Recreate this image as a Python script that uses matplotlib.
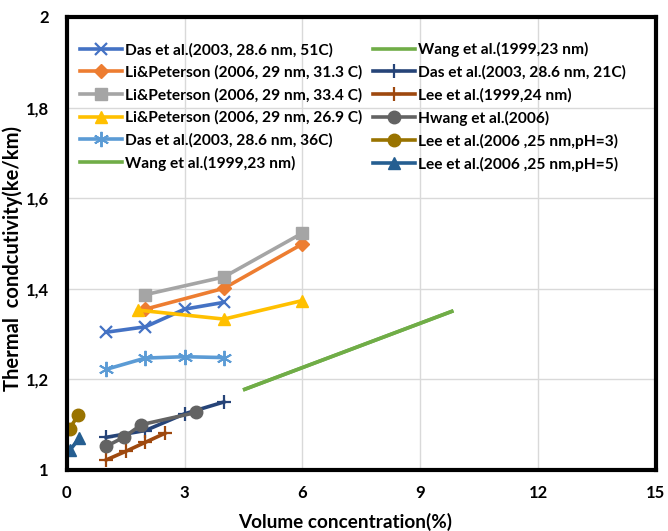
import numpy as np
import matplotlib
matplotlib.use('Agg')
import matplotlib.pyplot as plt
from matplotlib.ticker import FuncFormatter

plt.rcParams['font.family'] = ['Lato', 'DejaVu Sans']
plt.rcParams['font.weight'] = 'bold'

# data
das51_x = [1, 2, 3, 4]
das51_y = [1.304, 1.316, 1.355, 1.370]
li313_x = [2, 4, 6]
li313_y = [1.355, 1.401, 1.499]
li334_x = [2, 4, 6]
li334_y = [1.387, 1.426, 1.523]
li269_x = [1.8, 4, 6]
li269_y = [1.353, 1.333, 1.374]
das36_x = [1, 2, 3, 4]
das36_y = [1.222, 1.247, 1.250, 1.248]
wang_x = [4.53, 9.8]
wang_y = [1.178, 1.350]
das21_x = [1, 2, 3, 4]
das21_y = [1.072, 1.087, 1.124, 1.150]
lee99_x = [1, 1.5, 2, 2.5]
lee99_y = [1.022, 1.041, 1.061, 1.081]
hwang_x = [1, 1.45, 1.9, 3.3]
hwang_y = [1.052, 1.072, 1.100, 1.127]
lee3_x = [0.07, 0.29]
lee3_y = [1.091, 1.121]
lee5_x = [0.08, 0.32]
lee5_y = [1.044, 1.070]

fig = plt.figure(figsize=(6.68, 5.31), dpi=100)
ax = fig.add_axes([0.100, 0.115, 0.882, 0.853])

lw = 2.6
# left column of the legend
h1, = ax.plot(das51_x, das51_y, color='#4472C4', lw=lw, marker='x', ms=9, mew=1.6, label='Das et al.(2003, 28.6 nm, 51C)')
h2, = ax.plot(li313_x, li313_y, color='#ED7D31', lw=lw, marker='D', ms=7, label='Li&Peterson (2006, 29 nm, 31.3 C)')
h3, = ax.plot(li334_x, li334_y, color='#A5A5A5', lw=lw, marker='s', ms=9, label='Li&Peterson (2006, 29 nm, 33.4 C)')
h4, = ax.plot(li269_x, li269_y, color='#FFC000', lw=lw, marker='^', ms=9, label='Li&Peterson (2006, 29 nm, 26.9 C)')
h5, = ax.plot(das36_x, das36_y, color='#5B9BD5', lw=lw, marker=(6, 2, 0), ms=11, mew=1.4, label='Das et al.(2003, 28.6 nm, 36C)')
h6, = ax.plot(wang_x, wang_y, color='#70AD47', lw=lw, label='Wang et al.(1999,23 nm)')
# right column
h7, = ax.plot(wang_x, wang_y, color='#70AD47', lw=lw, label='Wang et al.(1999,23 nm)')
h8, = ax.plot(das21_x, das21_y, color='#264478', lw=lw, marker='+', ms=10, mew=1.6, label='Das et al.(2003, 28.6 nm, 21C)')
h9, = ax.plot(lee99_x, lee99_y, color='#9E480E', lw=lw, marker='+', ms=10, mew=1.6, label='Lee et al.(1999,24 nm)')
h10, = ax.plot(hwang_x, hwang_y, color='#636363', lw=lw, marker='o', ms=9, label='Hwang et al.(2006)')
h11, = ax.plot(lee3_x, lee3_y, color='#997300', lw=lw, marker='o', ms=9, label='Lee et al.(2006 ,25 nm,pH=3)')
h12, = ax.plot(lee5_x, lee5_y, color='#255E91', lw=lw, marker='^', ms=9, label='Lee et al.(2006 ,25 nm,pH=5)')

ax.set_xlim(0, 15)
ax.set_ylim(1, 2)
ax.set_xticks(np.arange(0, 16, 3))
ax.set_yticks([1, 1.2, 1.4, 1.6, 1.8, 2])
ax.yaxis.set_major_formatter(FuncFormatter(lambda v, p: ('%g' % v).replace('.', ',')))
ax.tick_params(length=0, labelsize=12)
ax.tick_params(axis='x', pad=11)
ax.tick_params(axis='y', pad=13)
ax.grid(True, color='#D9D9D9', lw=1)
ax.set_axisbelow(True)
for s in ax.spines.values():
    s.set_linewidth(3)
    s.set_color('black')

ax.set_xlabel('Volume concentration(%)', fontsize=13.6, fontweight='bold')
ax.xaxis.set_label_coords(0.472, -0.095)
ax.set_ylabel('Thermal  condcutivity(ke/km)', fontsize=14.5, fontweight='bold')
ax.yaxis.set_label_coords(-0.075, 0.467)

ax.legend(handles=[h1, h2, h3, h4, h5, h6, h7, h8, h9, h10, h11, h12],
          ncol=2, loc='upper left', bbox_to_anchor=(0.012, 0.958), frameon=False,
          fontsize=11.2, handlelength=2.7, columnspacing=0.7, labelspacing=0.52,
          handletextpad=0.2, borderaxespad=0)

plt.savefig('out.png', dpi=100)
